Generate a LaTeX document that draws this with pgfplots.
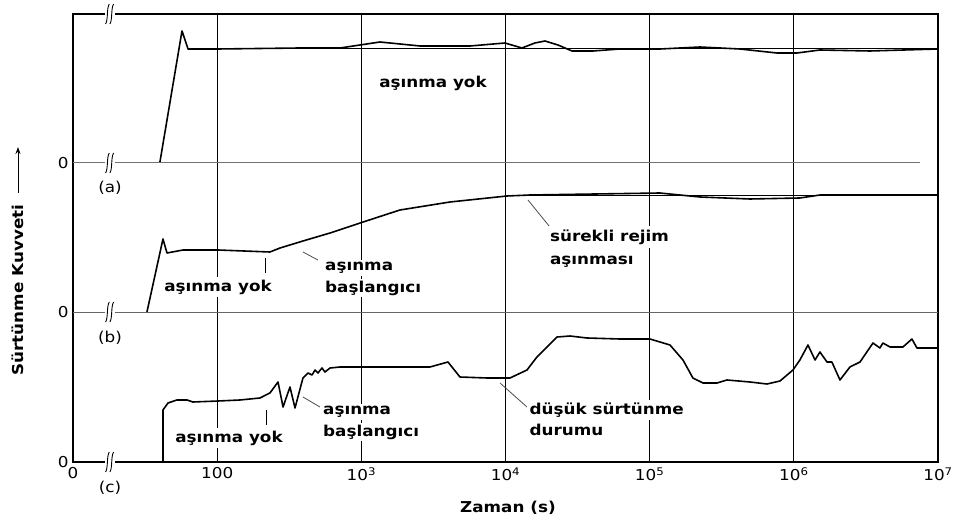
\documentclass[border=0pt]{standalone}
\usepackage{fontspec}
\setmainfont{DejaVu Sans}[FakeStretch=1.12]
\usepackage{pgfplots}
\pgfplotsset{compat=1.18}
\usetikzlibrary{arrows.meta}
\newcommand\lab{\fontsize{15bp}{18bp}\selectfont\bfseries}
\newcommand\tkl{\fontsize{15bp}{18bp}\selectfont}
\begin{document}
\begin{tikzpicture}
\useasboundingbox (-73bp,-61bp) rectangle (880bp,462bp);
\begin{axis}[
  at={(0,0)}, anchor=south west, scale only axis,
  width=865bp, height=448bp,
  xmin=1, xmax=7, ymin=0, ymax=448,
  clip=false,
  axis line style={line width=1.4pt},
  xtick={1,2,3,4,5,6,7},
  xticklabels={0,100,10\textsuperscript{3},10\textsuperscript{4},10\textsuperscript{5},10\textsuperscript{6},10\textsuperscript{7}},
  ytick={0,150,299}, yticklabels={0,0,0},
  major tick length=0pt,
  xmajorgrids, grid style={black, line width=1pt},
  ticklabel style={font=\tkl},
  xticklabel style={yshift=-2bp},
  yticklabel style={xshift=-1bp},
  /pgf/number format/assume math mode=true,
]
% zero lines
\draw[black!55, line width=1pt] (axis cs:1,299) -- (axis cs:6.875,299);
\draw[black!60, line width=1pt] (axis cs:1,150) -- (axis cs:7,150);

% (a) no wear
\addplot[black, line width=1.6pt, line join=round] coordinates {
(1.603,300) (1.756,431) (1.798,413) (2.006,413) (2.575,414) (2.852,414)
(2.991,417) (3.129,420) (3.268,418) (3.407,416) (3.754,416) (3.996,419)
(4.114,414) (4.204,419) (4.274,421) (4.364,417) (4.461,411) (4.607,411)
(4.794,413) (5.071,413) (5.349,415) (5.626,413) (5.883,409) (6.022,409)
(6.181,412) (6.528,411) (7.0,413)
};
\draw[black, line width=0.9pt] (axis cs:1.8,413.5) -- (axis cs:7,413.5);

% (b) steady-state wear
\addplot[black, line width=1.6pt, line join=round] coordinates {
(1.513,150) (1.624,223) (1.652,209) (1.763,212) (2.006,212) (2.366,210)
(2.436,214) (2.595,221) (2.783,229) (2.991,239) (3.268,252) (3.615,260)
(4.010,266) (4.170,267) (5.071,269) (5.349,265) (5.696,263) (6.042,264)
(6.181,267) (7.0,267)
};
\draw[black, line width=0.9pt] (axis cs:4.1,267) -- (axis cs:7,267);

% (c) low friction state
\addplot[black, line width=1.6pt, line join=round] coordinates {
(1.0,0) (1.624,0) (1.624,52) (1.659,59) (1.721,62) (1.791,62) (1.832,60)
(2.006,61) (2.158,62) (2.297,64) (2.366,69) (2.422,80) (2.457,55) (2.505,75)
(2.540,54) (2.595,84) (2.630,89) (2.658,87) (2.679,92) (2.699,89) (2.727,94)
(2.748,90) (2.783,94) (2.852,95) (3.476,95) (3.601,100) (3.684,85) (3.872,84)
(4.031,84) (4.149,92) (4.218,105) (4.288,115) (4.357,125) (4.447,126)
(4.565,124) (4.794,123) (5.002,123) (5.141,117) (5.231,102) (5.300,84)
(5.370,79) (5.467,79) (5.536,82) (5.696,80) (5.814,78) (5.904,81) (5.994,92)
(6.042,102) (6.098,117) (6.147,102) (6.181,110) (6.230,100) (6.264,100)
(6.320,82) (6.389,95) (6.459,100) (6.549,119) (6.597,114) (6.618,119)
(6.667,115) (6.757,115) (6.819,123) (6.854,114) (7.0,114)
};

% axis breaks
\pgfplotsinvokeforeach{0,150,299,448}{
  \fill[white] (axis cs:1.222,#1-6) rectangle (axis cs:1.291,#1+6);
  \draw[black, line width=0.9pt] (axis cs:1.226,#1-10) .. controls (axis cs:1.245,#1-6) and (axis cs:1.232,#1+6) .. (axis cs:1.252,#1+10);
  \draw[black, line width=0.9pt] (axis cs:1.256,#1-10) .. controls (axis cs:1.275,#1-6) and (axis cs:1.262,#1+6) .. (axis cs:1.282,#1+10);
}
\node[font=\tkl] at (axis cs:1.257,274) {(a)};
\node[font=\tkl] at (axis cs:1.257,124) {(b)};
\node[font=\tkl] at (axis cs:1.257,-26) {(c)};

% leader lines and onset marks
\draw[black!70, line width=0.8pt] (axis cs:2.595,210) -- (axis cs:2.699,202);
\draw[black!70, line width=0.8pt] (axis cs:4.156,262) -- (axis cs:4.308,235);
\draw[black!70, line width=0.8pt] (axis cs:2.595,65) -- (axis cs:2.713,55);
\draw[black!70, line width=0.8pt] (axis cs:3.962,79) -- (axis cs:4.149,55);
\draw[black, line width=0.9pt] (axis cs:2.332,204) -- (axis cs:2.332,189);
\draw[black, line width=0.9pt] (axis cs:2.339,52) -- (axis cs:2.339,37);

% annotations
\node[font=\lab, fill=white, inner sep=2bp] at (axis cs:3.497,379) {aşınma yok};
\node[font=\lab, fill=white, inner sep=3bp] at (axis cs:2.006,175) {aşınma yok};
\node[font=\lab, fill=white, inner sep=2bp, anchor=west] at (axis cs:2.734,194) {aşınma};
\node[font=\lab, fill=white, inner sep=2bp, anchor=west] at (axis cs:2.734,174) {başlangıcı};
\node[font=\lab, fill=white, inner sep=4bp, anchor=west] at (axis cs:4.28,225) {sürekli rejim};
\node[font=\lab, fill=white, inner sep=4bp, anchor=west] at (axis cs:4.28,200) {aşınması};
\node[font=\lab, fill=white, inner sep=3bp] at (axis cs:2.082,24) {aşınma yok};
\node[font=\lab, fill=white, inner sep=2bp, anchor=west] at (axis cs:2.72,50) {aşınma};
\node[font=\lab, fill=white, inner sep=2bp, anchor=west] at (axis cs:2.72,30) {başlangıcı};
\node[font=\lab, fill=white, inner sep=3bp, anchor=west] at (axis cs:4.145,52) {düşük sürtünme};
\node[font=\lab, fill=white, inner sep=3bp, anchor=west] at (axis cs:4.145,32) {durumu};

% axis titles
\node[font=\lab] at (axis cs:4.017,-46) {Zaman (s)};
\node[font=\lab, rotate=90] at (axis cs:0.6185,172) {Sürtünme Kuvveti};
\draw[black, line width=0.9pt, -{Stealth[length=7bp,width=5bp]}] (axis cs:0.6185,269) -- (axis cs:0.6185,315);
\end{axis}
\end{tikzpicture}
\end{document}
